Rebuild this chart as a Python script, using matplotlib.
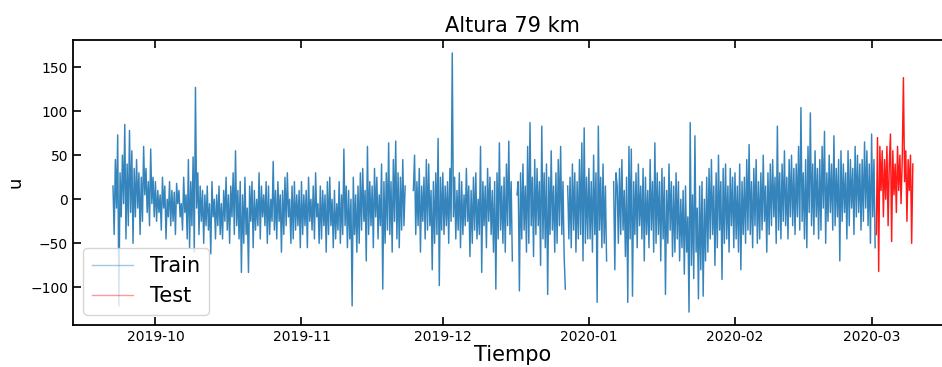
import numpy as np
import pandas as pd
import matplotlib
matplotlib.use("Agg")
import matplotlib.pyplot as plt
from matplotlib.lines import Line2D

nan = np.nan

# 6-hourly wind values (u)
train_start = "2019-09-22 00:00"
train_u = [
    # Sep 22 - Sep 30
    15, -40, 45, -10, 73, -121, 30, -20, 50, -5, 85, -45, 40, -30, 78, -15,
    55, -50, 35, -20, 45, -10, 30, -40, 25, -25, 60, 5, 35, -15, 20, -30,
    57, -5, 25, -20,
    # Oct
    20, -25, 10, -15, 5, -35, 25, -10, 15, -45, 0, -20, 20, -30, 10, -25,
    8, -40, 18, -5, 10, -20, -5, -35, 25, -15, 5, -45, 45, -55, 20, -30,
    48, -60, 127, -10, 30, -40, 15, -25, 10, -50, 5, -30, 15, -35, -5, -62,
    20, -20, 0, -45, 5, -30, 15, -40, -5, -45, 10, -25, 25, -35, 5, -50,
    15, -20, 30, -40, 55, -30, 10, -45, 20, -83, 5, -50, 25, -40, -10, -83,
    15, -25, 20, -55, 10, -35, 0, -30, 30, -45, 15, -20, 5, -30, 20, -50,
    15, -40, 0, -25, 43, -35, 10, -45, 20, -25, 5, -60, 10, -40, 25, -30,
    30, -20, 0, -50, 15, -45, 20, -35, 5, -30, 10, -55,
    # Nov
    20, -40, 5, -30, 10, -55, 25, -25, 0, -35, 15, -45, 30, -20, -5, -50,
    15, -45, 10, -30, 5, -60, 20, -40, 25, -30, 0, -55, 10, -45, -5, -35,
    20, -50, 5, -40, 57, -30, 15, -55, 10, -45, 0, -121, 25, -40, 5, -60,
    15, -50, 30, -35, 35, -25, 10, -70, 60, -40, 20, -30, 15, -55, 35, -20,
    25, -45, 5, -30, 40, -102, 20, -50, 30, -35, 64, -40, 20, -60, 45, -25,
    66, -45, 30, -55, 25, -35, 45, -30, 15, nan, nan, nan, nan, nan, nan, 10,
    50, -40, 20, -30, 35, -60, 15, -25, 25, -45, 45, -35, 40, -30, 10, -80,
    20, -50, 30, -40, 69, -98, 25, -35,
    # Dec
    30, -40, 15, -30, 20, -50, 35, -25, 166, -20, 25, -45, 10, -35, 30, -55,
    20, -40, 5, -30, 35, -25, 15, -65, 10, -50, 25, -35, 30, -45, 0, -40,
    60, -83, 20, -30, 15, -55, 35, -25, 25, -40, 10, -60, 20, -102, 30, -45,
    64, -35, 15, -50, 25, -60, 40, -30, 66, -40, 20, -70, nan, nan, nan, 5,
    20, -104, 30, -45, 40, -35, 15, -60, 60, -50, 87, -30, 25, -65, 45, -40,
    35, -30, 20, -75, 83, -45, 30, -55, 40, -108, 25, -40, 55, -35, 15, -60,
    30, -50, 45, -30, 60, -40, 20, -65, -102, nan, 15, -45, 25, -55, 40, -35,
    30, -60, 20, -45, 45, -40, 64, -70, 81, -50, 25, -45,
    # Jan
    35, -45, 20, -60, 50, -40, 30, -117, 83, -35, 25, -55, 40, -50, 15, -70,
    nan, nan, nan, nan, nan, 20, -80, 30, 15, -50, 35, -40, 45, -35, 10, -65,
    25, -117, 60, -45, 57, -110, 20, -40, 30, -55, 40, -30, 15, -45, 35, -70,
    25, -40, 10, -55, 45, -35, 20, -60, 64, -50, 30, -40, 20, -70, 35, -45,
    25, -108, 10, -50, 40, -35, 20, -65, 15, -60, 30, -45, 20, -70, 0, -55,
    10, -85, 15, -60, -20, -128, 87, -75, 5, -90, 72, -60, -10, -113, 15, -80,
    20, -110, 0, -70, 25, -60, 35, -45, 45, -40, 15, -75, 30, -55, 50, -35,
    20, -91, 35, -50, 40, -45, 15, -60, 35, -30, 25, -55,
    # Feb
    30, -45, 15, -60, 40, -80, 20, -40, 25, -50, 45, -35, 62, -40, 20, -55,
    35, -30, 45, -50, 20, -45, 30, -35, 50, -25, 15, -60, 30, -40, 40, -30,
    45, -20, 25, -50, 83, -35, 30, -45, 40, -25, 55, -30, 25, -45, 45, -20,
    50, -30, 35, -40, 40, -20, 60, -35, 104, -25, 30, -45, 45, -55, 60, -15,
    98, -30, 40, -40, 55, -20, 35, -45, 45, -35, 60, -10, 77, -50, 30, -25,
    50, -15, 40, -35, 72, -30, 35, -20, 45, -70, 55, -25, 40, -15, 30, -45,
    55, -30, 45, -10, 35, -40, 60, -20, 50, -15, 40, -35, 45, -25, 65, -10,
    55, -30, 40, -50,
    # Mar 1
    74, -20, 45, -55,
]

test_start = "2020-03-02 00:00"
test_u = [
    -40, 70, -82, 60, 10, 55, -20, 45, 0, 60, -30, 40, 74, -48, 55, 5,
    40, -15, 60, 10, 50, -5, 45, 138, 20, 55, -25, 45, 10, 50, -50, 40,
]

train_t = pd.date_range(train_start, periods=len(train_u), freq="6h")
test_t = pd.date_range(test_start, periods=len(test_u), freq="6h")

fig = plt.figure(figsize=(9.42, 3.67), dpi=100)
ax = fig.add_axes([0.0775, 0.1144, 0.934, 0.7766])

ax.plot(train_t, train_u, color="#1f77b4", lw=1.05, alpha=0.9)
ax.plot(test_t, test_u, color="red", lw=1.05, alpha=0.9)

ax.set_title("Altura 79 km", fontsize=15)
ax.set_xlabel("Tiempo", fontsize=15, labelpad=1)
ax.set_ylabel("u", fontsize=13)
ax.tick_params(direction="in", length=6, width=1.2, top=True, labelsize=10)
for s in ax.spines.values():
    s.set_linewidth(1.3)

handles = [
    Line2D([], [], color="#1f77b4", lw=1.0, alpha=0.4),
    Line2D([], [], color="red", lw=1.0, alpha=0.4),
]
ax.legend(handles, ["Train", "Test"], loc="lower left", fontsize=15)

fig.savefig("out.png", dpi=100)
